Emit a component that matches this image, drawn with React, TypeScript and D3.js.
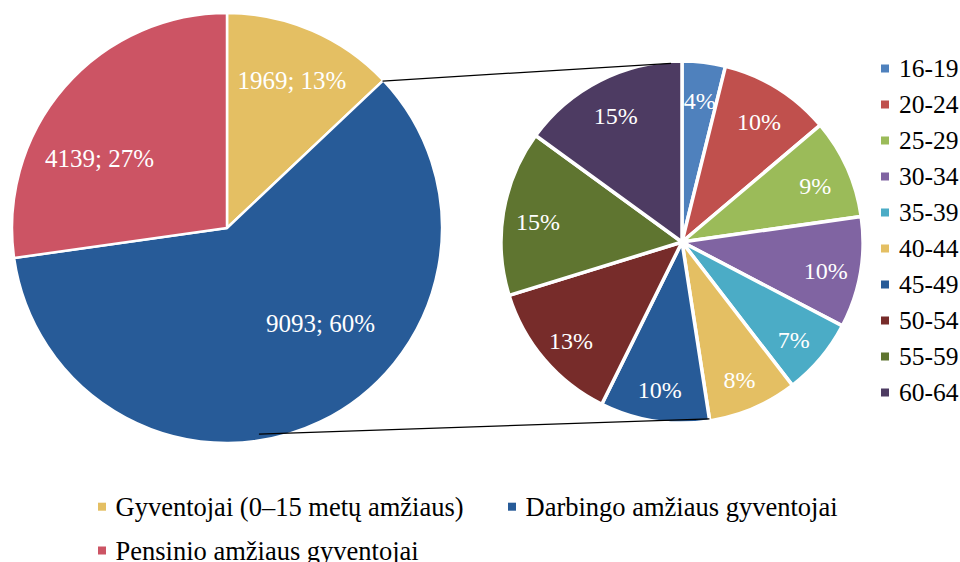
import React from "react";
import * as d3 from "d3";

const mainCategories = ["Gyventojai (0–15 metų amžiaus)", "Darbingo amžiaus gyventojai", "Pensinio amžiaus gyventojai"];
const mainValues = [1969, 9093, 4139];
const mainColors = ["#E4BF63", "#275B98", "#CC5464"];

const ageGroups = ["16-19", "20-24", "25-29", "30-34", "35-39", "40-44", "45-49", "50-54", "55-59", "60-64"];
const ageValues = [351, 907, 811, 902, 626, 727, 887, 1175, 1344, 1363];
const ageColors = ["#4F81BD", "#C0504D", "#9BBB59", "#8064A2", "#4BACC6", "#E4BF63", "#275B98", "#772C2A", "#5F7530", "#4D3B62"];

// label offsets for the main pie, as fractions of its radius
const mainLabelOffsets: [number, number][] = [[0.302, -0.685], [0.435, 0.441], [-0.593, -0.326]];

const FONT = "Liberation Serif, Tinos, DejaVu Serif, serif";
const W = 960, H = 562;

export default function App() {
  const c1 = { x: 227, y: 228 }, R1 = 215;
  const c2 = { x: 682, y: 242 }, R2 = 181;
  const r2vis = 179;

  const pie = d3.pie<number>().sort(null).value(d => d);
  const mainArcs = pie(mainValues);
  const ageArcs = pie(ageValues);
  const arc1 = d3.arc<d3.PieArcDatum<number>>().innerRadius(0).outerRadius(R1);
  const arc2 = d3.arc<d3.PieArcDatum<number>>().innerRadius(0).outerRadius(R2);
  const mainTotal = d3.sum(mainValues);
  const ageTotal = d3.sum(ageValues);
  const pct = (v: number, t: number) => `${Math.round((v / t) * 100)}%`;

  const polar = (c: { x: number; y: number }, r: number, a: number) => ({ x: c.x + r * Math.sin(a), y: c.y - r * Math.cos(a) });

  // upper connector: from end of first slice on main pie, tangent to second pie
  const p1 = polar(c1, R1 - 1, mainArcs[0].endAngle);
  const dx = p1.x - c2.x, dy = p1.y - c2.y;
  const d = Math.hypot(dx, dy);
  const base = Math.atan2(dy, dx);
  const t = base + Math.acos(r2vis / d);
  const q1 = { x: c2.x + r2vis * Math.cos(t), y: c2.y + r2vis * Math.sin(t) };
  // lower connector: at end angle of the 40-44 slice
  const la = ageArcs[5].endAngle;
  const p2 = polar(c1, R1 * 0.97, la);
  const q2 = polar(c2, r2vis, la);

  const legendRightX = 881, legendRightY0 = 68.5, legendRightStep = 36;

  return (
    <svg width={W} height={H} style={{ position: "absolute", left: 0, top: 0, fontFamily: FONT }}>
      <rect width={W} height={H} fill="#fff" />
      <g transform={`translate(${c1.x},${c1.y})`}>
        {mainArcs.map((a, i) => (
          <path key={i} d={arc1(a) || ""} fill={mainColors[i]} stroke="#fff" strokeWidth={2.5} strokeLinejoin="round" />
        ))}
        {mainArcs.map((a, i) => (
          <text key={i} x={mainLabelOffsets[i][0] * R1} y={mainLabelOffsets[i][1] * R1} dy="0.35em" textAnchor="middle" fill="#fff" style={{ fontSize: 25, fontFamily: FONT }}>
            {`${mainValues[i]}; ${pct(mainValues[i], mainTotal)}`}
          </text>
        ))}
      </g>
      <g transform={`translate(${c2.x},${c2.y})`}>
        {ageArcs.map((a, i) => (
          <path key={i} d={arc2(a) || ""} fill={ageColors[i]} stroke="#fff" strokeWidth={3.5} strokeLinejoin="round" />
        ))}
        {ageArcs.map((a, i) => {
          const m = (a.startAngle + a.endAngle) / 2;
          const r = r2vis * 0.815;
          return (
            <text key={i} x={r * Math.sin(m)} y={-r * Math.cos(m)} dy="0.5em" textAnchor="middle" fill="#fff" style={{ fontSize: 24, fontFamily: FONT }}>
              {pct(ageValues[i], ageTotal)}
            </text>
          );
        })}
      </g>
      <line x1={p1.x} y1={p1.y} x2={q1.x} y2={q1.y} stroke="#000" strokeWidth={1.2} />
      <line x1={p2.x} y1={p2.y} x2={q2.x} y2={q2.y} stroke="#000" strokeWidth={1.2} />
      {ageGroups.map((g, i) => {
        const cy = legendRightY0 + i * legendRightStep;
        return (
          <g key={g}>
            <rect x={legendRightX} y={cy - 4} width={8} height={8} fill={ageColors[i]} />
            <text x={legendRightX + 18} y={cy} dy="0.34em" fill="#000" style={{ fontSize: 25.5, fontFamily: FONT }}>{g}</text>
          </g>
        );
      })}
      {mainCategories.map((c, i) => {
        const col = i === 1 ? 1 : 0;
        const row = i === 2 ? 1 : 0;
        const x = col === 0 ? 98 : 508;
        const cy = 506.7 + row * 43.8;
        return (
          <g key={c}>
            <rect x={x} y={cy - 4} width={8} height={8} fill={mainColors[i]} />
            <text x={x + 17.5} y={cy} dy="0.35em" fill="#000" style={{ fontSize: 26.5, fontFamily: FONT }}>{c}</text>
          </g>
        );
      })}
    </svg>
  );
}
